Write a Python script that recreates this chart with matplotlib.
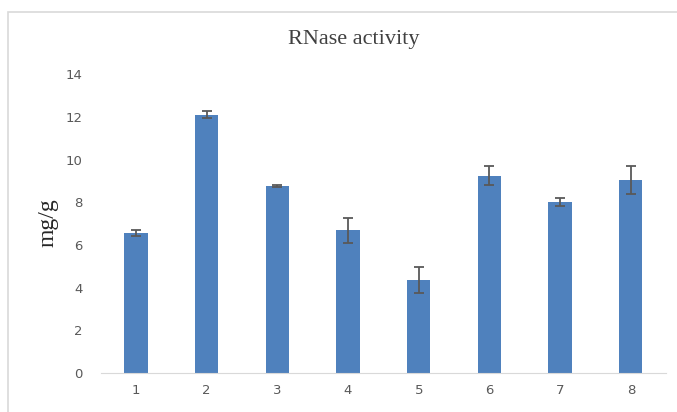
import matplotlib
matplotlib.use("Agg")
import matplotlib.pyplot as plt
from matplotlib.patches import Rectangle

# data
samples = ["1", "2", "3", "4", "5", "6", "7", "8"]
activity = [6.55, 12.1, 8.74, 6.69, 4.35, 9.24, 8.02, 9.04]
errors = [0.15, 0.17, 0.05, 0.58, 0.62, 0.45, 0.2, 0.65]
y_ticks = [0, 2, 4, 6, 8, 10, 12, 14]

fig = plt.figure(figsize=(6.77, 4.12), dpi=100)
ax = fig.add_axes([0.1486, 0.0947, 0.8354, 0.7253])

# chart border like an Excel chart area
fig.patches.append(Rectangle((0.012, -0.01), 1.0, 0.98, transform=fig.transFigure,
                             fill=False, edgecolor="#d9d9d9", linewidth=1.2))

x = range(len(samples))
ax.bar(x, activity, width=0.33, color="#4f81bd",
       yerr=errors, capsize=3.5,
       error_kw=dict(ecolor="#595959", elinewidth=1.3, capthick=1.3))

ax.set_xlim(-0.5, len(samples) - 0.5)
ax.set_ylim(0, 14)
ax.set_yticks(y_ticks)
ax.set_xticks(list(x))
ax.set_xticklabels(samples)
ax.tick_params(length=0, colors="#595959", labelsize=9.5)
ax.tick_params(axis="x", pad=8)
ax.tick_params(axis="y", pad=13)

for s in ["top", "right", "left"]:
    ax.spines[s].set_visible(False)
ax.spines["bottom"].set_color("#d9d9d9")

fig.text(0.522, 0.905, "RNase activity", ha="center", va="center",
         family="Liberation Serif", fontsize=16, color="#404040")
fig.text(0.071, 0.459, "mg/g", ha="center", va="center", rotation=90,
         family="Liberation Serif", fontsize=17, color="#262626")

fig.savefig("out.png", dpi=100)
